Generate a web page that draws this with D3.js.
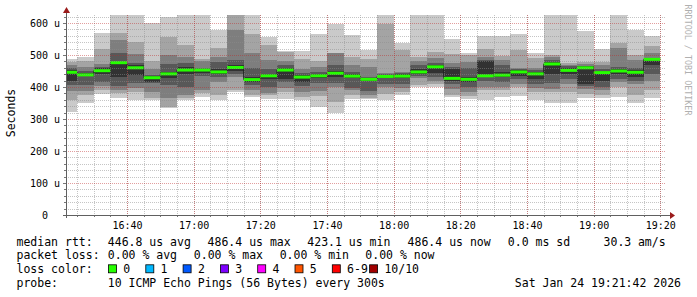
<!DOCTYPE html>
<html>
<head>
<meta charset="utf-8">
<script src="https://cdn.jsdelivr.net/npm/d3@7"></script>
<style>
  html, body { margin: 0; padding: 0; background: #fff; }
  svg { display: block; font-family: 'DejaVu Sans Mono', monospace; }
  text { white-space: pre; }
</style>
</head>
<body>
<script>
'use strict';

// end time of each 5 minute step (rrd style: value covers the 5 min before)
const barEnds = ['16:25', '16:30', '16:35', '16:40', '16:45', '16:50', '16:55', '17:00', '17:05', '17:10',
  '17:15', '17:20', '17:25', '17:30', '17:35', '17:40', '17:45', '17:50', '17:55', '18:00',
  '18:05', '18:10', '18:15', '18:20', '18:25', '18:30', '18:35', '18:40', '18:45', '18:50',
  '18:55', '19:00', '19:05', '19:10', '19:15', '19:20'];

// sorted ping rtts per step, in microseconds (p1 = fastest, p10 = slowest)
const p1 = [323, 349, 378, 365, 358, 359, 333, 360, 370, 360, 383, 368, 362, 363, 358, 338, 320, 362, 362, 360, 375, 400, 399, 370, 362, 360, 370, 372, 360, 349, 350, 365, 365, 368, 349, 365];
const p2 = [360, 375, 391, 382, 385, 365, 338, 365, 380, 375, 390, 375, 375, 385, 368, 371, 354, 375, 366, 378, 385, 406, 410, 374, 372, 390, 390, 400, 385, 383, 385, 378, 375, 400, 375, 390];
const p3 = [386, 389, 403, 391, 398, 385, 365, 375, 391, 417, 430, 391, 381, 398, 385, 386, 400, 390, 375, 400, 396, 428, 420, 395, 385, 400, 400, 410, 398, 395, 410, 395, 390, 417, 410, 420];
const p4 = [407, 407, 417, 402, 413, 411, 406, 401, 433, 430, 440, 405, 401, 415, 402, 412, 412, 396, 386, 410, 408, 435, 430, 408, 400, 420, 415, 425, 410, 412, 425, 402, 400, 425, 420, 440];
const p5 = [420, 433, 440, 432, 437, 415, 427, 440, 443, 440, 450, 417, 424, 425, 415, 428, 430, 428, 420, 428, 428, 440, 445, 420, 416, 430, 430, 435, 425, 440, 440, 410, 420, 440, 430, 470];
const p6 = [453, 443, 458, 479, 468, 433, 446, 462, 457, 455, 470, 432, 442, 460, 438, 441, 449, 440, 427, 437, 440, 455, 470, 455, 432, 480, 448, 452, 447, 478, 460, 465, 450, 456, 452, 490];
const p7 = [458, 450, 462, 505, 474, 437, 471, 474, 460, 479, 484, 459, 457, 468, 445, 448, 469, 448, 430, 440, 444, 468, 475, 462, 458, 485, 470, 455, 452, 485, 465, 467, 455, 462, 460, 492];
const p8 = [469, 462, 472, 547, 503, 456, 500, 495, 481, 495, 578, 505, 483, 480, 455, 464, 505, 469, 462, 445, 448, 480, 490, 476, 478, 493, 485, 460, 459, 495, 470, 472, 470, 522, 484, 507];
const p9 = [478, 482, 518, 569, 541, 481, 557, 532, 486, 521, 640, 566, 530, 508, 487, 482, 507, 495, 488, 598, 516, 495, 510, 503, 500, 518, 497, 516, 490, 500, 476, 477, 479, 537, 500, 528];
const p10 = [487, 495, 568, 640, 640, 601, 620, 640, 640, 578, 640, 640, 557, 514, 514, 567, 597, 563, 516, 640, 537, 640, 640, 549, 507, 559, 559, 567, 507, 640, 640, 576, 518, 640, 579, 558];

const medians = [446, 438, 451, 476, 460, 429, 441, 453, 453, 447, 461, 423.1, 435, 453, 431, 435, 443, 434, 424, 433,
  434, 447, 463, 427, 424, 435, 437, 447, 441, 472, 452, 460, 445, 450, 446, 486.4];

const yTicks = [0, 100, 200, 300, 400, 500, 600];
const xTickLabels = ['16:40', '17:00', '17:20', '17:40', '18:00', '18:20', '18:40', '19:00', '19:20'];

const lossLabels = ['0', '1', '2', '3', '4', '5', '6-9', '10/10'];
const lossColors = ['#26ff00', '#00b8ff', '#0059ff', '#7e00ff', '#ff00ff', '#ff5500', '#ff0000', '#a10000'];

const smokeGrays = ['#cacaca', '#a4a4a4', '#7e7e7e', '#585858', '#323232'];

const W = 697, H = 297;
const plot = {left: 66, top: 15, width: 600, height: 200};
const bottom = plot.top + plot.height;

const parseHM = d3.timeParse('%H:%M');
const parseHMS = d3.timeParse('%H:%M:%S');

const x = d3.scaleTime()
    .domain([parseHMS('16:21:42'), parseHMS('19:21:42')])
    .range([plot.left, plot.left + plot.width]);

const y = d3.scaleLinear()
    .domain([0, 625])
    .range([bottom, plot.top]);

const svg = d3.select('body').append('svg')
    .attr('width', W)
    .attr('height', H);

svg.append('rect').attr('width', W).attr('height', H).attr('fill', '#fff');

svg.append('clipPath').attr('id', 'plotclip')
  .append('rect')
    .attr('x', plot.left).attr('y', plot.top)
    .attr('width', plot.width).attr('height', plot.height);

const pings = [p1, p2, p3, p4, p5, p6, p7, p8, p9, p10];
const steps = barEnds.map((t, i) => {
  const t1 = parseHM(t);
  return {t0: d3.timeMinute.offset(t1, -5), t1, i, median: medians[i]};
});

const g = svg.append('g').attr('clip-path', 'url(#plotclip)');

// smoke: band k spans ping k .. ping (11-k), darker towards the middle
smokeGrays.forEach((col, k) => {
  g.append('g').selectAll('rect')
    .data(steps)
    .join('rect')
      .attr('x', d => x(d.t0))
      .attr('width', d => x(d.t1) - x(d.t0))
      .attr('y', d => y(pings[9 - k][d.i]))
      .attr('height', d => y(pings[k][d.i]) - y(pings[9 - k][d.i]))
      .attr('fill', col)
      .attr('shape-rendering', 'crispEdges');
});

// median step line
const medPts = [];
steps.forEach(d => {
  medPts.push([x(d.t0), y(d.median)]);
  medPts.push([x(d.t1), y(d.median)]);
});
g.append('path')
    .attr('d', d3.line()(medPts))
    .attr('fill', 'none')
    .attr('stroke', '#202020')
    .attr('stroke-width', 1);

g.append('g').selectAll('rect')
  .data(steps)
  .join('rect')
    .attr('x', d => x(d.t0))
    .attr('width', d => x(d.t1) - x(d.t0))
    .attr('y', d => y(d.median) - 1.5)
    .attr('height', 3)
    .attr('fill', lossColors[0]);

// grid (drawn over the smoke, like rrdtool)
const grid = svg.append('g').attr('shape-rendering', 'crispEdges');
const minorY = d3.range(20, 625, 20).filter(v => v % 100 !== 0);
const majorY = yTicks.filter(v => v > 0);
const minorX = d3.timeMinute.every(5).range(x.domain()[0], x.domain()[1]);
const majorX = xTickLabels.map(parseHM);

grid.selectAll('.hmin').data(minorY).join('line')
    .attr('x1', plot.left).attr('x2', plot.left + plot.width)
    .attr('y1', d => Math.round(y(d)) + 0.5).attr('y2', d => Math.round(y(d)) + 0.5)
    .attr('stroke', 'rgba(140,140,140,0.5)').attr('stroke-dasharray', '1,1');
grid.selectAll('.vmin').data(minorX).join('line')
    .attr('x1', d => Math.round(x(d)) + 0.5).attr('x2', d => Math.round(x(d)) + 0.5)
    .attr('y1', plot.top).attr('y2', bottom)
    .attr('stroke', 'rgba(140,140,140,0.5)').attr('stroke-dasharray', '1,1');
grid.selectAll('.hmaj').data(majorY).join('line')
    .attr('x1', plot.left).attr('x2', plot.left + plot.width)
    .attr('y1', d => Math.round(y(d)) + 0.5).attr('y2', d => Math.round(y(d)) + 0.5)
    .attr('stroke', 'rgba(190,40,40,0.45)').attr('stroke-dasharray', '1,1');
grid.selectAll('.vmaj').data(majorX).join('line')
    .attr('x1', d => Math.round(x(d)) + 0.5).attr('x2', d => Math.round(x(d)) + 0.5)
    .attr('y1', plot.top).attr('y2', bottom)
    .attr('stroke', 'rgba(190,40,40,0.45)').attr('stroke-dasharray', '1,1');

// tick marks
grid.selectAll('.ytk').data(minorY.concat(majorY)).join('line')
    .attr('x1', d => majorY.includes(d) ? plot.left - 3 : plot.left - 2).attr('x2', plot.left)
    .attr('y1', d => Math.round(y(d)) + 0.5).attr('y2', d => Math.round(y(d)) + 0.5)
    .attr('stroke', '#777');
grid.selectAll('.xtk').data(minorX).join('line')
    .attr('x1', d => Math.round(x(d)) + 0.5).attr('x2', d => Math.round(x(d)) + 0.5)
    .attr('y1', bottom).attr('y2', bottom + 2)
    .attr('stroke', '#777');

// axes labels via d3 axes
const yAxis = svg.append('g')
    .attr('transform', 'translate(' + plot.left + ',0)')
    .call(d3.axisLeft(y).tickValues(yTicks).tickSize(0).tickPadding(6)
      .tickFormat(d => d === 0 ? '0\u00a0\u00a0' : d + ' u'));
yAxis.select('.domain').remove();
yAxis.selectAll('text').attr('font-family', 'DejaVu Sans Mono').attr('font-size', 10).attr('fill', '#000');

const xAxis = svg.append('g')
    .attr('transform', 'translate(0,' + bottom + ')')
    .call(d3.axisBottom(x).tickValues(majorX).tickSize(0).tickPadding(7)
      .tickFormat(d3.timeFormat('%H:%M')));
xAxis.select('.domain').remove();
xAxis.selectAll('text').attr('font-family', 'DejaVu Sans Mono').attr('font-size', 10).attr('fill', '#000');

// axis lines and arrows
const axisCol = '#606060';
const arrowCol = '#9b1b1b';
svg.append('line')
    .attr('x1', plot.left + 0.5).attr('x2', plot.left + 0.5)
    .attr('y1', bottom + 3).attr('y2', plot.top - 3)
    .attr('stroke', axisCol).attr('shape-rendering', 'crispEdges');
svg.append('line')
    .attr('x1', plot.left - 3).attr('x2', plot.left + plot.width + 4)
    .attr('y1', bottom + 0.5).attr('y2', bottom + 0.5)
    .attr('stroke', axisCol).attr('shape-rendering', 'crispEdges');
svg.append('path')
    .attr('d', d3.line()([[plot.left - 3, plot.top - 2], [plot.left + 0.5, plot.top - 8], [plot.left + 4, plot.top - 2]]) + 'Z')
    .attr('fill', arrowCol);
svg.append('path')
    .attr('d', d3.line()([[plot.left + plot.width + 4, bottom - 3], [plot.left + plot.width + 9, bottom + 0.5], [plot.left + plot.width + 4, bottom + 4]]) + 'Z')
    .attr('fill', arrowCol);

// y title
svg.append('text')
    .attr('transform', 'translate(11,113) rotate(-90)')
    .attr('text-anchor', 'middle')
    .attr('dominant-baseline', 'central')
    .attr('font-size', 11.5)
    .text('Seconds');

// watermark
svg.append('text')
    .attr('transform', 'translate(688,60) rotate(90)')
    .attr('text-anchor', 'middle')
    .attr('dominant-baseline', 'central')
    .attr('font-size', 8.4)
    .attr('fill', '#b0b0b0')
    .text('RRDTOOL / TOBI OETIKER');

// legend
const legendFont = 11.5;
const rows = [245.5, 259, 273.3, 287.3];
const legendTexts = [
  [16.5, rows[0], 'median rtt:'], [107.8, rows[0], '446.8 us avg'], [207.6, rows[0], '486.4 us max'],
  [307.3, rows[0], '423.1 us min'], [407.6, rows[0], '486.4 us now'], [507.8, rows[0], '0.0 ms sd'],
  [603.6, rows[0], '30.3'], [637.9, rows[0], 'am/s'],
  [16.5, rows[1], 'packet loss:'], [107.8, rows[1], '0.00 % avg'], [193.8, rows[1], '0.00 % max'],
  [279.7, rows[1], '0.00 % min'], [365.3, rows[1], '0.00 % now'],
  [16.5, rows[2], 'loss color:'],
  [16.5, rows[3], 'probe:'], [107.8, rows[3], '10 ICMP Echo Pings (56 Bytes) every 300s']
];
svg.append('g').selectAll('text').data(legendTexts).join('text')
    .attr('x', d => d[0]).attr('y', d => d[1])
    .attr('font-size', legendFont)
    .text(d => d[2]);
svg.append('text')
    .attr('x', 681).attr('y', rows[3])
    .attr('text-anchor', 'end')
    .attr('font-size', legendFont)
    .text('Sat Jan 24 19:21:42 2026');

const lossScale = d3.scalePoint().domain(lossLabels).range([108.5, 108.5 + 37.3 * 7]);
const lossG = svg.append('g').selectAll('g').data(lossLabels).join('g')
    .attr('transform', d => 'translate(' + lossScale(d) + ',' + (rows[2] - 8.5) + ')');
lossG.append('rect')
    .attr('width', 8).attr('height', 8)
    .attr('fill', (d, i) => lossColors[i])
    .attr('stroke', '#000').attr('stroke-width', 0.8);
lossG.append('text')
    .attr('x', 14.8).attr('y', 8.5)
    .attr('font-size', legendFont)
    .text(d => d);
</script>
</body>
</html>
